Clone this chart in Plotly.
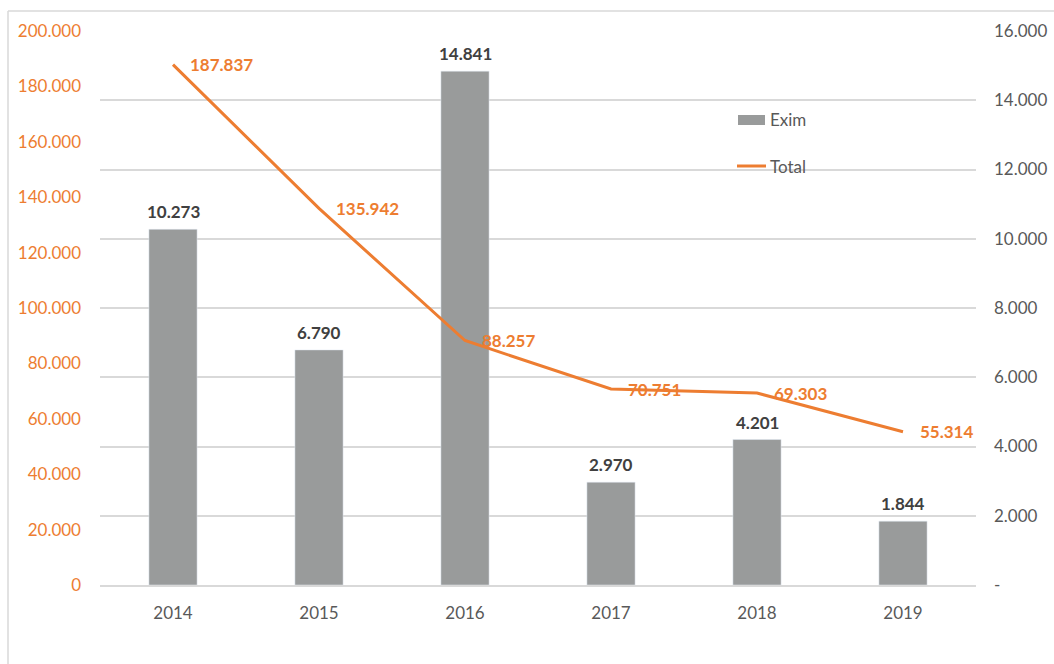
import plotly.graph_objects as go

years = ["2014", "2015", "2016", "2017", "2018", "2019"]
exim = [10273, 6790, 14841, 2970, 4201, 1844]
total = [187837, 135942, 88257, 70751, 69303, 55314]

left_ticks = [0, 20000, 40000, 60000, 80000, 100000, 120000, 140000, 160000, 180000, 200000]
left_labels = ["0", "20.000", "40.000", "60.000", "80.000", "100.000", "120.000", "140.000", "160.000", "180.000", "200.000"]
right_ticks = [0, 2000, 4000, 6000, 8000, 10000, 12000, 14000, 16000]
right_labels = ["-", "2.000", "4.000", "6.000", "8.000", "10.000", "12.000", "14.000", "16.000"]

ORANGE = "#ED7D31"
GRAY = "#999B9B"
FONT = "Lato"


def fmt(v):
    return f"{v:,}".replace(",", ".")


W, H = 1054, 664
L, R, T, B = 100, 78, 31, 79
pw, ph = W - L - R, H - T - B


def px(x):
    return (x - L) / pw


def py(y):
    return (H - B - y) / ph


fig = go.Figure()
# bars on the right-hand axis (yaxis), line on left-hand axis (yaxis2, drawn on top)
fig.add_trace(go.Bar(
    x=years, y=exim, name="Exim", yaxis="y", marker_color=GRAY, width=0.33,
    showlegend=False,
))
fig.add_trace(go.Scatter(
    x=years, y=total, name="Total", yaxis="y2", mode="lines",
    line=dict(color=ORANGE, width=3), cliponaxis=False,
    showlegend=False,
))

annotations = []
for i, v in enumerate(exim):
    annotations.append(dict(x=i, y=v, xref="x", yref="y", text=fmt(v), showarrow=False,
                            xanchor="center", yanchor="bottom", yshift=5,
                            font=dict(family=FONT, size=17, color="#404040", weight="bold")))
for i, v in enumerate(total):
    annotations.append(dict(x=i, y=v, xref="x", yref="y2", text=fmt(v), showarrow=False,
                            xanchor="left", yanchor="middle", xshift=15,
                            font=dict(family=FONT, size=17, color=ORANGE, weight="bold")))

shapes = [
    # frame
    dict(type="line", xref="paper", yref="paper", x0=px(8), x1=px(1060), y0=py(11), y1=py(11),
         line=dict(color="#D9D9D9", width=1.5)),
    dict(type="line", xref="paper", yref="paper", x0=px(8), x1=px(8), y0=py(11), y1=py(670),
         line=dict(color="#D9D9D9", width=1.5)),
    # legend symbols
    dict(type="rect", xref="paper", yref="paper", x0=px(738), x1=px(765), y0=py(115), y1=py(125),
         fillcolor=GRAY, line=dict(width=0)),
    dict(type="line", xref="paper", yref="paper", x0=px(737), x1=px(766), y0=py(166), y1=py(166),
         line=dict(color=ORANGE, width=3)),
]
annotations += [
    dict(xref="paper", yref="paper", x=px(768), y=py(120), text="Exim", showarrow=False,
         xanchor="left", yanchor="middle", font=dict(family=FONT, size=17, color="#595959")),
    dict(xref="paper", yref="paper", x=px(768), y=py(166), text="Total", showarrow=False,
         xanchor="left", yanchor="middle", font=dict(family=FONT, size=17, color="#595959")),
]

fig.update_layout(
    width=W, height=H,
    margin=dict(l=L, r=R, t=T, b=B, autoexpand=False),
    paper_bgcolor="white", plot_bgcolor="white",
    font=dict(family=FONT, size=17, color="#595959"),
    xaxis=dict(type="category", categoryorder="array", categoryarray=years,
               range=[-0.5, len(years) - 0.5], autorange=False, automargin=False,
               showgrid=False, showline=True, linecolor="#D9D9D9", linewidth=1.5,
               ticks="", ticklabelstandoff=12, tickfont=dict(size=17, color="#595959")),
    yaxis=dict(range=[0, 16000], tickvals=right_ticks, ticktext=right_labels, automargin=False,
               side="right", showgrid=True, gridcolor="#D9D9D9", gridwidth=1.5,
               zeroline=False, ticks="", ticklabelstandoff=17,
               tickfont=dict(size=17, color="#595959")),
    yaxis2=dict(range=[0, 200000], tickvals=left_ticks, ticktext=left_labels, automargin=False,
                overlaying="y", side="left", showgrid=False, zeroline=False, ticks="",
                ticklabelstandoff=18, tickfont=dict(size=17, color=ORANGE)),
    shapes=shapes, annotations=annotations,
    showlegend=False,
)

fig.write_html("out.html")
